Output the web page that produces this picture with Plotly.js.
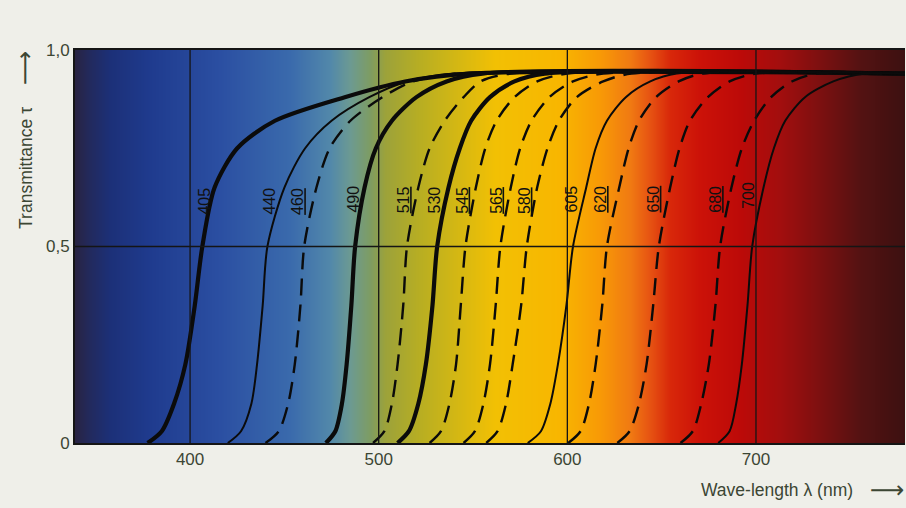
<!DOCTYPE html>
<html><head><meta charset="utf-8">
<script src="https://cdn.plot.ly/plotly-3.0.1.min.js"></script>
<style>html,body{margin:0;padding:0;background:#efefe9;}#chart{width:906px;height:508px;}</style>
</head><body><div id="chart"></div>
<script>
// Transmittance levels at which each filter curve's wavelength was read
const levelsT = [0, 0.03, 0.1, 0.2, 0.35, 0.5, 0.65, 0.75, 0.82, 0.88, 0.92, 0.94, 0.94];
// Wavelength (nm) of each filter curve at those levels
const f405 = [377.5, 385, 391.5, 397.5, 402.5, 406.5, 413, 425, 445, 482, 514, 548, 780];
const f440 = [420, 427, 432.5, 435.5, 438.5, 441, 450, 461, 475, 495, 515, 540, 780];
const f460 = [440, 447, 452, 455.5, 458.5, 460.5, 467, 474, 485, 502, 518, 542, 780];
const f490 = [472, 477, 480.5, 483, 485.5, 487.5, 492.5, 498.5, 507, 520, 536, 555, 780];
const f515 = [497, 503, 507, 510, 513, 515, 521, 527, 535, 545, 554, 570, 780];
const f530 = [510, 516, 521, 525, 528.5, 531, 537, 543, 549, 559, 572, 588, 780];
const f545 = [527, 533, 537.5, 541, 543.5, 546, 551.5, 556.5, 562.5, 572, 584, 600, 780];
const f565 = [545, 551, 555.5, 559, 562, 564.5, 570, 575, 581, 590.5, 603, 619, 780];
const f580 = [557, 563, 567.5, 571, 575.5, 578.5, 584, 589.5, 595.5, 605, 619, 634, 780];
const f605 = [579, 586, 591, 595, 599.5, 603, 610, 615, 621, 631, 644, 658, 780];
const f620 = [600.5, 607, 611.5, 615, 618.5, 621, 627.5, 632.5, 638, 647, 659, 672, 780];
const f650 = [626.5, 633, 638, 642, 645.5, 648.5, 654.5, 659.5, 665, 674.5, 686, 700, 780];
const f680 = [660, 666.5, 671, 675, 678.5, 681, 687, 692.5, 699, 708, 719, 732, 780];
const f700 = [680, 686, 689.5, 692.5, 695.5, 698, 704, 709.5, 715.5, 726, 741, 758, 780];

const filterNames = ['405','440','460','490','515','530','545','565','580','605','620','650','680','700'];
const filterCurves = [f405,f440,f460,f490,f515,f530,f545,f565,f580,f605,f620,f650,f680,f700];
const filterStyles = ['thick','thin','dash','thick','dash','thick','dash','dash','dash','thin','dash','dash','dash','thin'];

// Label positions (wavelength, transmittance)
const labelX = [407.5, 442, 457, 486.5, 513, 529.5, 544, 562, 577, 602, 617.5, 645.5, 678.5, 696];
const labelY = [0.615, 0.615, 0.615, 0.62, 0.618, 0.618, 0.618, 0.618, 0.618, 0.62, 0.62, 0.62, 0.62, 0.63];

// Spectrum background
const bgWl = [335, 347, 357.6, 378.8, 416, 453, 474, 484.8, 495.4, 503.3, 522, 543, 561.6, 596, 617, 633, 643.8, 654.4, 670, 691.5, 712.7, 734, 755, 785];
const bgColors = ['#2c2034','#222a5e','#1c3078','#1f3b8e','#2b4fa2','#3a6aac','#5288aa','#6c9a92','#7e9c62','#9ca23a','#b8ae22','#d6b812','#f2c004','#f8b600','#f89a06','#f07a12','#e65212','#d8280a','#cc1208','#bc0a08','#a20e0e','#7c1010','#541212','#361010'];

const xTicks = [400, 500, 600, 700];
const yTicks = [0, 0.5, 1.0];
const yTickText = ['0', '0,5', '1,0'];

const wlMin = bgWl[0], wlMax = bgWl[bgWl.length-1];
const colorscale = bgWl.map((w,i)=>[(w-wlMin)/(wlMax-wlMin), bgColors[i]]);

const traces = [{
  type:'heatmap', x: bgWl, y:[0,1], z:[bgWl, bgWl], colorscale: colorscale,
  zmin: wlMin, zmax: wlMax, zsmooth:'best', showscale:false, hoverinfo:'skip'
}];
filterCurves.forEach((c,i)=>{
  const s = filterStyles[i];
  traces.push({
    type:'scatter', mode:'lines', x:c, y:levelsT, name:filterNames[i],
    line:{color:'#0b0b0b', width: s==='thick'?4.2:(s==='thin'?2:2.4), dash: s==='dash'?'17px,9px':'solid', shape:'spline', smoothing:0.8},
    hoverinfo:'skip', showlegend:false
  });
});

const annotations = filterNames.map((n,i)=>({
  x: labelX[i], y: labelY[i], xref:'x', yref:'y', showarrow:false, textangle:-90,
  xanchor:'center', yanchor:'middle',
  text: filterStyles[i]==='dash' ? '<span style="text-decoration:underline">'+n+'</span>' : n,
  font:{family:'Liberation Sans, Arial, sans-serif', size:16, color:'#111'}
}));
const titleFont = {family:'Liberation Sans, Arial, sans-serif', size:17.5, color:'#3c4634'};
const arrowFont = {family:'DejaVu Sans', size:24, color:'#3c4634'};
annotations.push({xref:'paper', yref:'paper', x:-0.059, y:0.70, xanchor:'center', yanchor:'middle', text:'Transmittance τ', textangle:-90, showarrow:false, font:titleFont});
annotations.push({xref:'paper', yref:'paper', x:-0.061, y:0.955, xanchor:'center', yanchor:'middle', text:'⟶', textangle:-90, showarrow:false, font:arrowFont});
annotations.push({xref:'paper', yref:'paper', x:0.940, y:-0.12, xanchor:'right', yanchor:'middle', text:'Wave-length λ (nm)', showarrow:false, font:titleFont});
annotations.push({xref:'paper', yref:'paper', x:0.978, y:-0.12, xanchor:'center', yanchor:'middle', text:'⟶', showarrow:false, font:arrowFont});

const shapes = [];
xTicks.forEach(t=>shapes.push({type:'line', xref:'x', yref:'paper', x0:t, x1:t, y0:0, y1:1, layer:'above', line:{color:'#151515', width:1.3}}));
shapes.push({type:'line', xref:'paper', yref:'y', x0:0, x1:1, y0:yTicks[1], y1:yTicks[1], layer:'above', line:{color:'#151515', width:1.3}});

const layout = {
  width:906, height:508,
  margin:{l:75, r:1, t:50, b:65},
  paper_bgcolor:'#efefe9', plot_bgcolor:'#efefe9',
  showlegend:false,
  xaxis:{range:[339, 779], tickvals:xTicks, showgrid:false, zeroline:false, showline:true, mirror:true, linecolor:'#151515', linewidth:2, ticks:'', ticklen:0,
    tickfont:{family:'Liberation Sans, Arial, sans-serif', size:17, color:'#3c4634'}, fixedrange:true},
  yaxis:{range:[0,1], tickvals:yTicks, ticktext:yTickText, showgrid:false, zeroline:false, showline:true, linecolor:'#151515', linewidth:2, ticks:'',
    tickfont:{family:'Liberation Sans, Arial, sans-serif', size:17, color:'#3c4634'}, fixedrange:true},
  annotations: annotations,
  shapes: shapes
};
Plotly.newPlot('chart', traces, layout, {displayModeBar:false, staticPlot:true});
</script></body></html>
